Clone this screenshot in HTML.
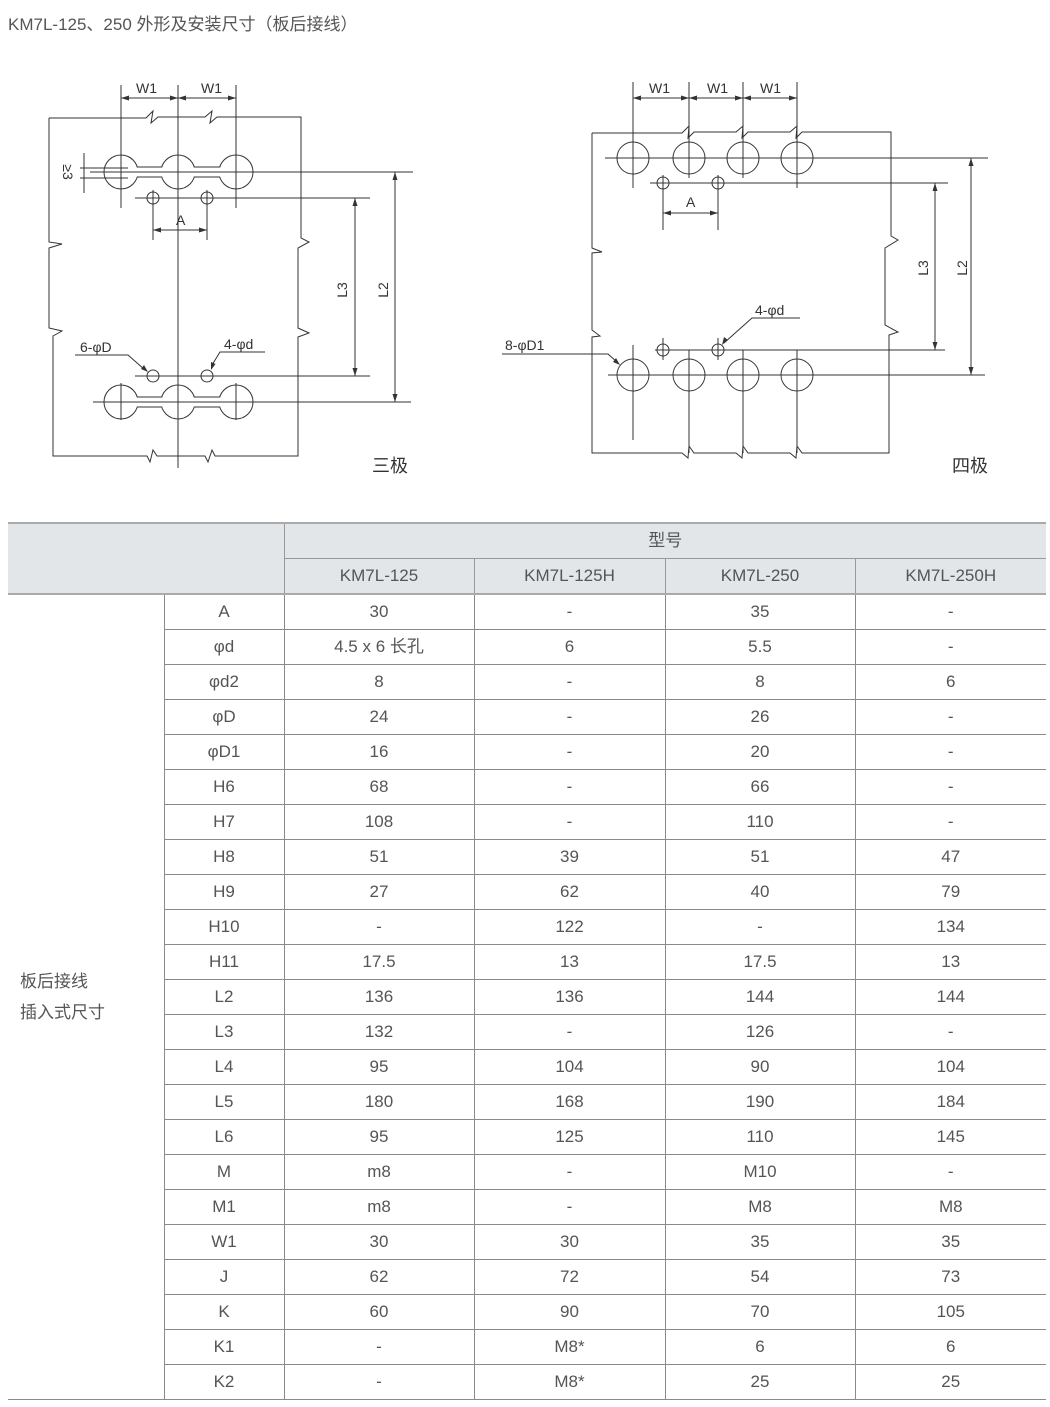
<!DOCTYPE html>
<html><head><meta charset="utf-8"><style>
body{margin:0;width:1050px;height:1407px;background:#fff;position:relative;font-family:"Liberation Sans","Noto Sans CJK SC",sans-serif;overflow:hidden}
.title{position:absolute;left:8px;top:10px;font-size:17px;color:#555}
svg{position:absolute;left:0;top:0}
table{position:absolute;left:8px;top:522px;border-collapse:collapse;table-layout:fixed;width:1038px;color:#555;font-size:17px}
td{height:34px;border:1px solid #8a8a8a;text-align:center;padding:0;line-height:34px}
tr.h td{background:#e2e6e9;border-color:#999}
tr.top td{border-top:2px solid #aaa}
tr.h2 td{border-bottom:2px solid #aaa}
.sec{text-align:left;padding-left:12px;line-height:31px;border-left:none;border-bottom:1px solid #8a8a8a}
</style></head><body>
<div class="title">KM7L-125、250 外形及安装尺寸（板后接线）</div>
<svg width="1050" height="520" viewBox="0 0 1050 520" fill="none" stroke="#333" stroke-width="1" font-family="Liberation Sans, sans-serif">
<!-- LEFT DIAGRAM -->
<path d="M49,118 H146 L153,111 L151,123 L158,117 H205 L212,111 L210,123 L217,117 H301 V238 L309,242 L298,248 V328 L309,333 L298,337 V456 H215 L212,450 L208,462 L205,456 H157 L153,450 L150,462 L147,456 H53 V336 L62,331 L49,328 V248 L62,244 L49,242 V118"/>
<g fill="#fff">
<circle cx="121" cy="172" r="17"/><circle cx="178" cy="172" r="17"/><circle cx="236" cy="172" r="17"/>
<rect x="133" y="167.5" width="100" height="9" stroke="none"/>
<circle cx="121" cy="402" r="17"/><circle cx="178" cy="402" r="17"/><circle cx="236" cy="402" r="17"/>
<rect x="133" y="397.5" width="100" height="9" stroke="none"/>
</g>
<path d="M137,167 H162 M137,177 H162 M194,167 H220 M194,177 H220 M137,397 H162 M137,407 H162 M194,397 H220 M194,407 H220"/>
<circle cx="153" cy="198" r="6"/><circle cx="207" cy="198" r="6"/>
<circle cx="153" cy="376" r="6"/><circle cx="207" cy="376" r="6"/>
<path d="M121,85 V208 M178,85 V468 M236,85 V208 M121,383 V420 M236,383 V420 M90,172 H413 M135,198 H370 M135,376 H370 M93,402 H411 M153,190 V240 M207,190 V240 M84,153 V193 M80,168 H128 M80,178 H128"/>
<path d="M121,98 H236 M355,198 V376 M395,172 V402 M153,230 H207"/>
<g fill="#333" stroke="none">
<path d="M121,98 l8,-2.5 v5z M178,98 l-8,-2.5 v5z M178,98 l8,-2.5 v5z M236,98 l-8,-2.5 v5z"/>
<path d="M153,230 l8,-2.5 v5z M207,230 l-8,-2.5 v5z"/>
<path d="M355,198 l-2.5,8 h5z M355,376 l-2.5,-8 h5z M395,172 l-2.5,8 h5z M395,402 l-2.5,-8 h5z"/>
<path d="M148,372 l-7,-3 l3,-4z M211,370 l0,-8 l4.5,2z"/>
</g>
<path d="M75,355 H128 L145,370 M265,352 H220 L212,365"/>
<g fill="#333" stroke="none" font-size="14">
<text x="136" y="93">W1</text><text x="201" y="93">W1</text>
<text x="176" y="225">A</text>
<text x="80" y="352">6-φD</text><text x="224" y="349">4-φd</text>
<text transform="translate(63,172) rotate(90)" text-anchor="middle">≥3</text>
<text transform="translate(347,290) rotate(-90)" text-anchor="middle">L3</text>
<text transform="translate(388,290) rotate(-90)" text-anchor="middle">L2</text>
<text x="372" y="472" font-size="18" font-family="Noto Sans CJK SC, sans-serif">三极</text>
</g>
<!-- RIGHT DIAGRAM -->
<path d="M592,133 H682 L689,126 L688,138 L694,132 H736 L743,126 L742,138 L748,132 H790 L797,126 L796,138 L802,132 H891 V236 L898,240 L885,248 V325 L898,332 L889,335 V453 H802 L797,446 L796,458 L790,453 H748 L743,446 L742,458 L736,453 H694 L689,446 L688,458 L682,453 H592 V337 L600,336 L592,330 V253 L602,252 L592,248 V133"/>
<circle cx="633" cy="158" r="16"/><circle cx="689" cy="158" r="16"/><circle cx="743" cy="158" r="16"/><circle cx="797" cy="158" r="16"/>
<circle cx="633" cy="375" r="16"/><circle cx="689" cy="375" r="16"/><circle cx="743" cy="375" r="16"/><circle cx="797" cy="375" r="16"/>
<circle cx="663" cy="183" r="6"/><circle cx="718" cy="183" r="6"/><circle cx="663" cy="350" r="6"/><circle cx="718" cy="350" r="6"/>
<path d="M633,82 V188 M689,82 V178 M743,82 V178 M797,82 V188 M633,345 V440 M689,350 V453 M743,350 V453 M797,350 V453 M605,158 H988 M650,183 H948 M655,350 H945 M608,375 H985 M663,175 V230 M718,175 V230 M663,338 V360 M718,338 V360"/>
<path d="M633,98 H797 M663,213 H718 M935,183 V350 M971,158 V375"/>
<g fill="#333" stroke="none">
<path d="M633,98 l8,-2.5 v5z M689,98 l-8,-2.5 v5z M689,98 l8,-2.5 v5z M743,98 l-8,-2.5 v5z M743,98 l8,-2.5 v5z M797,98 l-8,-2.5 v5z"/>
<path d="M663,213 l8,-2.5 v5z M718,213 l-8,-2.5 v5z"/>
<path d="M935,183 l-2.5,8 h5z M935,350 l-2.5,-8 h5z M971,158 l-2.5,8 h5z M971,375 l-2.5,-8 h5z"/>
<path d="M620,365 l-7,-3 l3,-4z M722,345 l2,-8 l4,3z"/>
</g>
<path d="M502,354 H608 L617,362 M800,318 H752 L724,343"/>
<g fill="#333" stroke="none" font-size="14">
<text x="649" y="93">W1</text><text x="707" y="93">W1</text><text x="760" y="93">W1</text>
<text x="686" y="207">A</text>
<text x="505" y="350">8-φD1</text><text x="755" y="315">4-φd</text>
<text transform="translate(928,268) rotate(-90)" text-anchor="middle">L3</text>
<text transform="translate(967,268) rotate(-90)" text-anchor="middle">L2</text>
<text x="952" y="472" font-size="18" font-family="Noto Sans CJK SC, sans-serif">四极</text>
</g>
</svg>
<table>
<colgroup><col style="width:156px"><col style="width:120px"><col style="width:190px"><col style="width:191px"><col style="width:190px"><col style="width:191px"></colgroup>
<tr class="h top"><td colspan="2" rowspan="2" style="border-left:none;border-bottom:2px solid #aaa"></td><td colspan="4" style="border-right:none">型号</td></tr>
<tr class="h h2"><td>KM7L-125</td><td>KM7L-125H</td><td>KM7L-250</td><td style="border-right:none">KM7L-250H</td></tr>
<tr><td rowspan="23" class="sec">板后接线<br>插入式尺寸</td><td>A</td><td>30</td><td>-</td><td>35</td><td style="border-right:none">-</td></tr>
<tr><td>φd</td><td>4.5 x 6 长孔</td><td>6</td><td>5.5</td><td style="border-right:none">-</td></tr>
<tr><td>φd2</td><td>8</td><td>-</td><td>8</td><td style="border-right:none">6</td></tr>
<tr><td>φD</td><td>24</td><td>-</td><td>26</td><td style="border-right:none">-</td></tr>
<tr><td>φD1</td><td>16</td><td>-</td><td>20</td><td style="border-right:none">-</td></tr>
<tr><td>H6</td><td>68</td><td>-</td><td>66</td><td style="border-right:none">-</td></tr>
<tr><td>H7</td><td>108</td><td>-</td><td>110</td><td style="border-right:none">-</td></tr>
<tr><td>H8</td><td>51</td><td>39</td><td>51</td><td style="border-right:none">47</td></tr>
<tr><td>H9</td><td>27</td><td>62</td><td>40</td><td style="border-right:none">79</td></tr>
<tr><td>H10</td><td>-</td><td>122</td><td>-</td><td style="border-right:none">134</td></tr>
<tr><td>H11</td><td>17.5</td><td>13</td><td>17.5</td><td style="border-right:none">13</td></tr>
<tr><td>L2</td><td>136</td><td>136</td><td>144</td><td style="border-right:none">144</td></tr>
<tr><td>L3</td><td>132</td><td>-</td><td>126</td><td style="border-right:none">-</td></tr>
<tr><td>L4</td><td>95</td><td>104</td><td>90</td><td style="border-right:none">104</td></tr>
<tr><td>L5</td><td>180</td><td>168</td><td>190</td><td style="border-right:none">184</td></tr>
<tr><td>L6</td><td>95</td><td>125</td><td>110</td><td style="border-right:none">145</td></tr>
<tr><td>M</td><td>m8</td><td>-</td><td>M10</td><td style="border-right:none">-</td></tr>
<tr><td>M1</td><td>m8</td><td>-</td><td>M8</td><td style="border-right:none">M8</td></tr>
<tr><td>W1</td><td>30</td><td>30</td><td>35</td><td style="border-right:none">35</td></tr>
<tr><td>J</td><td>62</td><td>72</td><td>54</td><td style="border-right:none">73</td></tr>
<tr><td>K</td><td>60</td><td>90</td><td>70</td><td style="border-right:none">105</td></tr>
<tr><td>K1</td><td>-</td><td>M8*</td><td>6</td><td style="border-right:none">6</td></tr>
<tr><td>K2</td><td>-</td><td>M8*</td><td>25</td><td style="border-right:none">25</td></tr>
</table>
</body></html>
